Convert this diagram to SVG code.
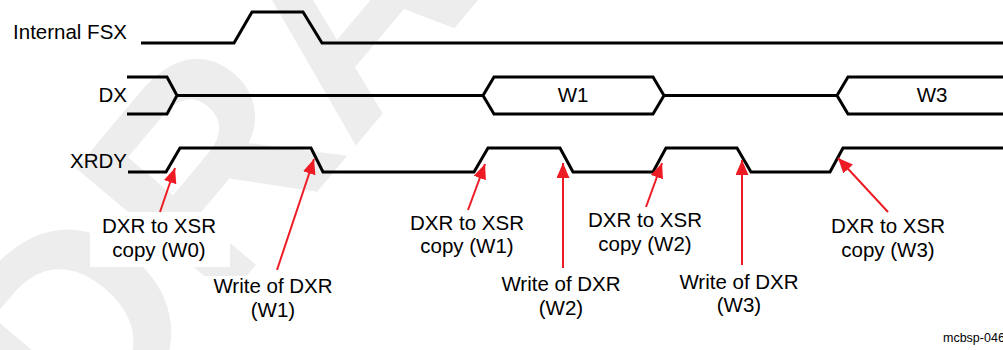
<svg xmlns="http://www.w3.org/2000/svg" width="1003" height="350" viewBox="0 0 1003 350">
<defs>
<style>
.wm{font-family:"Liberation Sans",Arial,sans-serif;font-weight:bold;font-size:290px;fill:#ededed}
.sig{fill:none;stroke:#000;stroke-width:3;stroke-linejoin:miter;stroke-miterlimit:10}
.lbl{font-family:"Liberation Sans",Arial,sans-serif;font-size:20.5px;fill:#000}
.ann{font-family:"Liberation Sans",Arial,sans-serif;font-size:20.5px;fill:#000;text-anchor:middle}
.box{fill:#fff}
.arr{fill:none;stroke:#ed1c24;stroke-width:2;marker-end:url(#ah)}
.tag{font-family:"Liberation Sans",Arial,sans-serif;font-size:12.5px;fill:#000}
</style>
<marker id="ah" markerUnits="userSpaceOnUse" markerWidth="15" markerHeight="13" refX="15" refY="6.5" orient="auto" viewBox="0 0 15 13">
<path d="M0,0 L15,6.5 L0,13 Z" fill="#ed1c24"/>
</marker>
</defs>
<rect width="1003" height="350" fill="#fff"/>
<g id="watermark">
<text class="wm" x="82" y="472" transform="rotate(-50 82 472)">DRAFT</text>
</g>
<g id="sig-fsx">
<text class="lbl" x="127" y="39" text-anchor="end">Internal FSX</text>
<path class="sig" d="M141,43 H234 L252,12 H303 L322,43 H1003"/>
</g>
<g id="sig-dx">
<text class="lbl" x="127" y="102" text-anchor="end">DX</text>
<path class="sig" d="M127,77 H167 L177,95.5 L167,114 H127"/>
<path class="sig" d="M177,95.5 H483"/>
<path class="sig" d="M483,95.5 L494,77 H653 L664,95.5 L653,114 H494 Z"/>
<text class="ann" x="573" y="102">W1</text>
<path class="sig" d="M664,95.5 H837"/>
<path class="sig" d="M1003,77 H848 L837,95.5 L848,114 H1003"/>
<text class="ann" x="932" y="102">W3</text>
</g>
<g id="sig-xrdy">
<text class="lbl" x="127" y="168" text-anchor="end">XRDY</text>
<path class="sig" d="M128,172 H166 L180,148 H311 L323,172 H474 L488,148 H560 L573,172 H653 L666,148 H737 L751,172 H830 L843,148 H1003"/>
</g>
<g id="note-copy-w0">
<rect class="box" x="90" y="212" width="140" height="55"/>
<text class="ann" x="159" y="233">DXR to XSR</text>
<text class="ann" x="159" y="256.5">copy (W0)</text>
</g>
<g id="note-write-w1">
<rect class="box" x="203" y="276" width="140" height="50"/>
<text class="ann" x="273" y="293">Write of DXR</text>
<text class="ann" x="273" y="316.5">(W1)</text>
</g>
<g id="note-copy-w1">
<text class="ann" x="467" y="229.5">DXR to XSR</text>
<text class="ann" x="467" y="253">copy (W1)</text>
</g>
<g id="note-write-w2">
<text class="ann" x="561" y="291">Write of DXR</text>
<text class="ann" x="561" y="314.5">(W2)</text>
</g>
<g id="note-copy-w2">
<text class="ann" x="645" y="227">DXR to XSR</text>
<text class="ann" x="645" y="250.5">copy (W2)</text>
</g>
<g id="note-write-w3">
<text class="ann" x="739" y="288.5">Write of DXR</text>
<text class="ann" x="739" y="312">(W3)</text>
</g>
<g id="note-copy-w3">
<text class="ann" x="888" y="233">DXR to XSR</text>
<text class="ann" x="888" y="256.5">copy (W3)</text>
</g>
<g id="connectors">
<path class="arr" d="M160,212 L175,168"/>
<path class="arr" d="M277,270 L314,159"/>
<path class="arr" d="M468,210 L485,164"/>
<path class="arr" d="M563,268 L563,163"/>
<path class="arr" d="M646,207 L662,163"/>
<path class="arr" d="M742,265 L742,160"/>
<path class="arr" d="M888,212 L838,158"/>
</g>
<text class="tag" x="943" y="342">mcbsp-046</text>
</svg>
